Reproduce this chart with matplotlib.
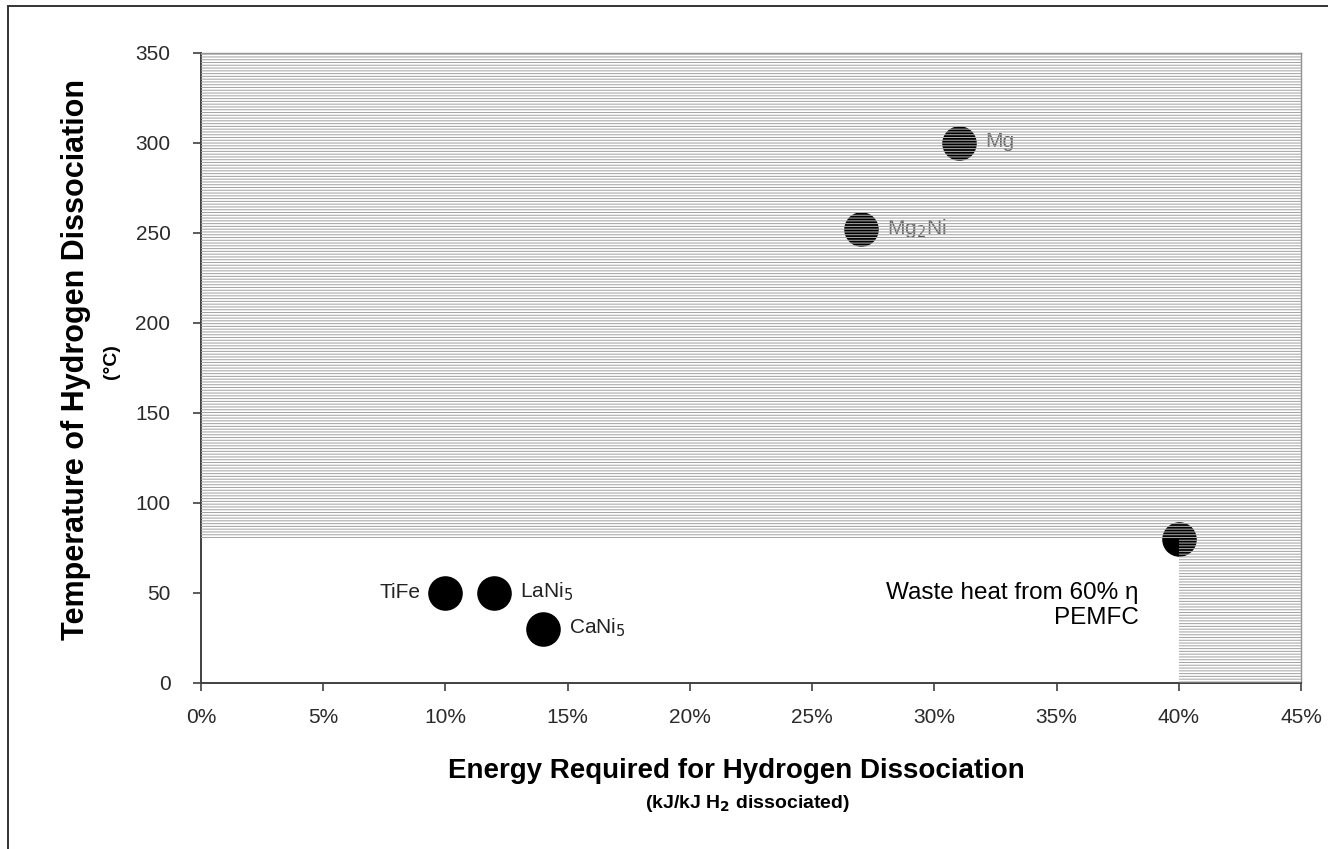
#Import packages
import matplotlib
matplotlib.use("Agg")
import matplotlib.pyplot as plt
from matplotlib.patches import Polygon, Rectangle
from matplotlib.ticker import FuncFormatter

#Data
materials = ['TiFe', 'LaNi$_5$', 'CaNi$_5$', 'Mg$_2$Ni', 'Mg']
energy_pct = [10, 12, 14, 27, 31]
temp_c = [50, 50, 30, 252, 300]
label_side = ['left', 'right', 'right', 'right', 'right']

#Waste heat point of a 60% efficient PEMFC
waste_energy = 40
waste_temp = 80
waste_text = 'Waste heat from 60% \u03b7\nPEMFC'

x_ticks = [0, 5, 10, 15, 20, 25, 30, 35, 40, 45]
y_ticks = [0, 50, 100, 150, 200, 250, 300, 350]

#Main script
def main():
	plt.rcParams['font.family'] = ['Liberation Sans', 'DejaVu Sans']
	plt.rcParams['hatch.linewidth'] = 0.75

	fig = plt.figure(figsize=(13.28, 8.49), dpi=100)
	ax = fig.add_axes([201/1328, 1 - 683/849, 1100/1328, (683 - 52.5)/849])
	ax.set_xlim(x_ticks[0], x_ticks[-1])
	ax.set_ylim(y_ticks[0], y_ticks[-1])

	#Points
	ax.scatter(energy_pct, temp_c, s=620, color='black', zorder=2, linewidths=0)
	ax.scatter([waste_energy], [waste_temp], s=620, color='black', zorder=2, linewidths=0)

	#Labels next to points
	for name, x, y, side in zip(materials, energy_pct, temp_c, label_side):
		hot = y > waste_temp
		if side == 'left':
			ax.annotate(name, (x, y), xytext=(-25, 0), textcoords='offset pixels',
				ha='right', va='center', fontsize=15, color='#222222', zorder=2)
		else:
			ax.annotate(name, (x, y), xytext=(26, 1), textcoords='offset pixels',
				ha='left', va='center', fontsize=15,
				color='#606060' if hot else '#222222', zorder=2)

	#Hatched area above the waste heat temperature and right of its energy
	xl, xr = x_ticks[0], x_ticks[-1]
	yb, yt = y_ticks[0], y_ticks[-1]
	region = [(xl, waste_temp), (waste_energy, waste_temp), (waste_energy, yb),
		(xr, yb), (xr, yt), (xl, yt)]
	ax.add_patch(Polygon(region, closed=True, facecolor='none', edgecolor='#a6a6a6',
		hatch='------', linewidth=0, zorder=3))

	ax.text(waste_energy - 1.65, 43, waste_text, ha='right', va='center',
		fontsize=17.5, color='black', linespacing=1.2, zorder=4)

	#Axes styling
	ax.set_xticks(x_ticks)
	ax.set_yticks(y_ticks)
	ax.xaxis.set_major_formatter(FuncFormatter(lambda v, p: '%d%%' % v))
	ax.tick_params(direction='out', length=6, width=1.2, color='#404040',
		labelsize=15, labelcolor='#2a2a2a', pad=12)
	ax.tick_params(axis='y', pad=16)
	for side in ['left', 'bottom']:
		ax.spines[side].set_color('#404040')
		ax.spines[side].set_linewidth(1.4)
	for side in ['top', 'right']:
		ax.spines[side].set_color('#909090')
		ax.spines[side].set_linewidth(1.0)

	#Axis titles
	fig.text(76/1328, 1 - 359/849, 'Temperature of Hydrogen Dissociation', rotation=90,
		ha='center', va='center', fontsize=22, fontweight='bold')
	fig.text(112/1328, 1 - 362/849, '(\u00b0C)', rotation=90,
		ha='center', va='center', fontsize=14, fontweight='bold')
	fig.text(736/1328, 1 - 771/849, 'Energy Required for Hydrogen Dissociation',
		ha='center', va='center', fontsize=20, fontweight='bold')
	fig.text(748/1328, 1 - 804/849, '(kJ/kJ H$_\\mathbf{2}$ dissociated)',
		ha='center', va='center', fontsize=14, fontweight='bold')

	#Outer chart border
	fig.patches.append(Rectangle((8/1328, -0.1), 2, 1.1 - 6/849, transform=fig.transFigure,
		fill=False, edgecolor='#333333', linewidth=1.4))

	plt.savefig('out.png', dpi=100)

#Execute main script
if __name__ == '__main__':
	main()
